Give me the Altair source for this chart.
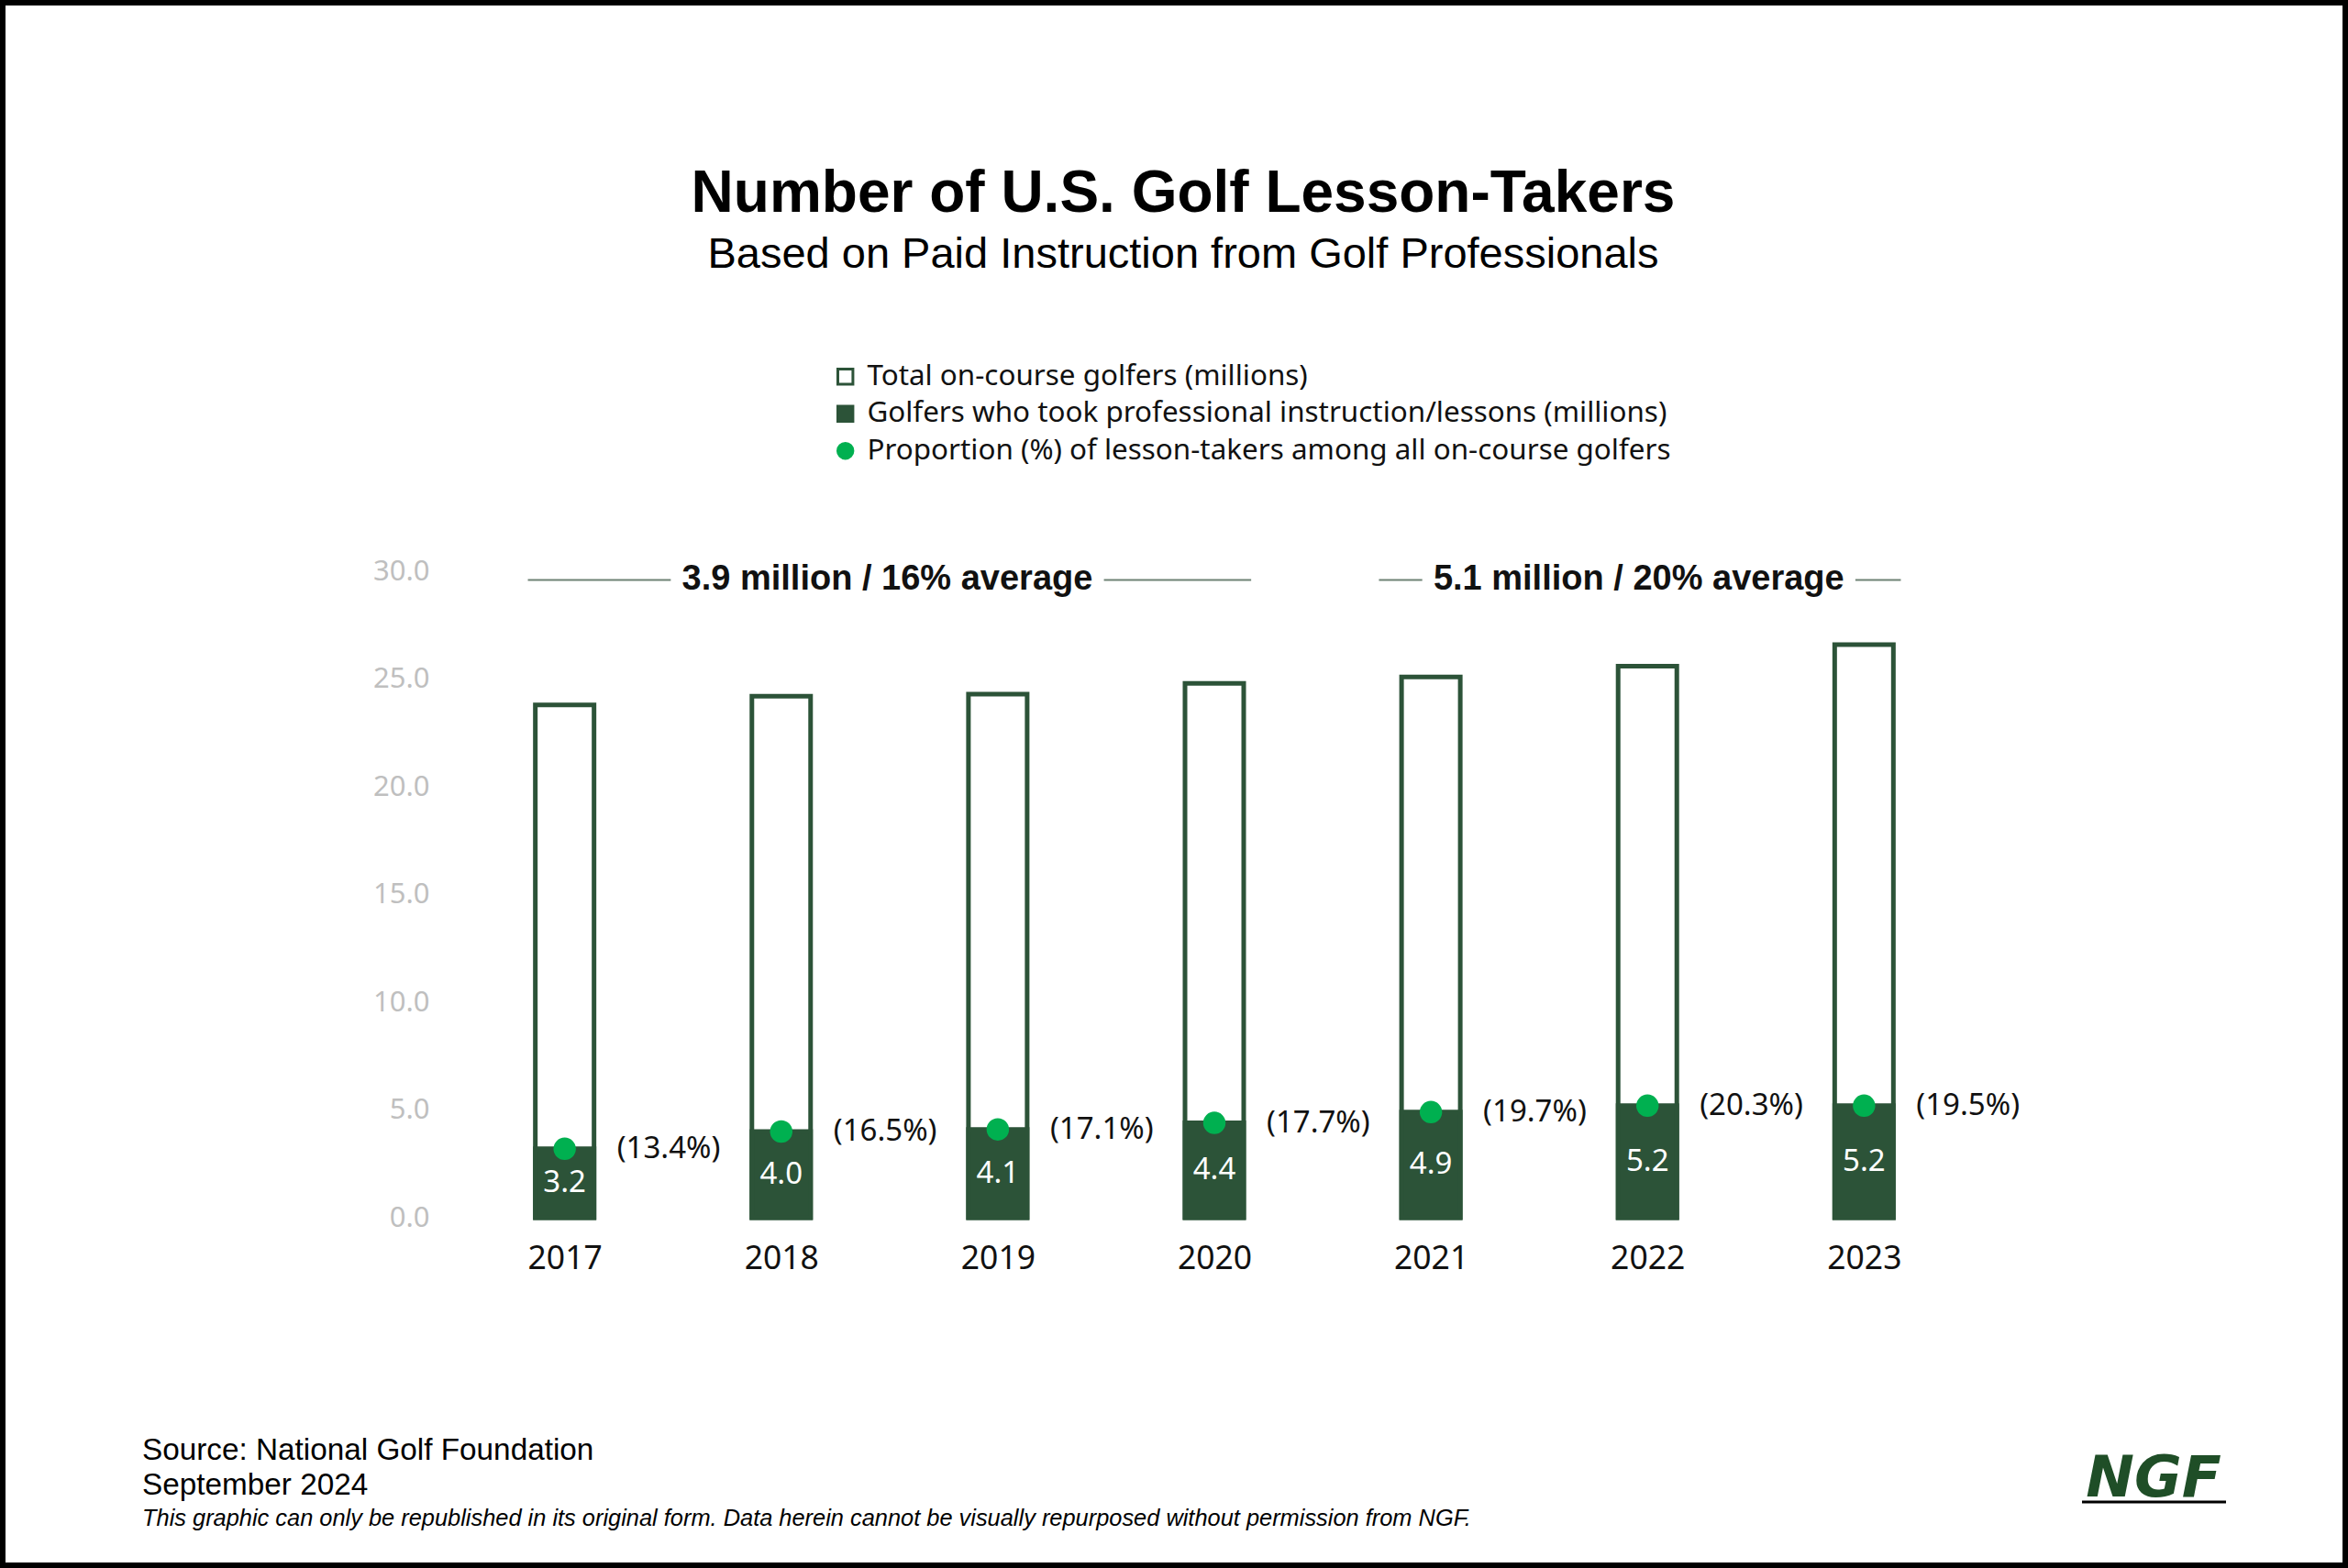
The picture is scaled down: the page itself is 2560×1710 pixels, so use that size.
import altair as alt
import pandas as pd

# ---------------- data ----------------
years = [2017, 2018, 2019, 2020, 2021, 2022, 2023]
total_golfers = [23.8, 24.2, 24.3, 24.8, 25.1, 25.6, 26.6]
lesson_takers = [3.2, 4.0, 4.1, 4.4, 4.9, 5.2, 5.2]
lesson_share = [13.4, 16.5, 17.1, 17.7, 19.7, 20.3, 19.5]

avg_labels = ["3.9 million / 16% average", "5.1 million / 20% average"]
avg_first_year = [2017, 2021]
avg_last_year = [2020, 2023]

legend_labels = [
    "Total on-course golfers (millions)",
    "Golfers who took professional instruction/lessons (millions)",
    "Proportion (%) of lesson-takers among all on-course golfers",
]
y_ticks = [0, 5, 10, 15, 20, 25, 30]

title_text = "Number of U.S. Golf Lesson-Takers"
subtitle_text = "Based on Paid Instruction from Golf Professionals"
source_lines = ["Source: National Golf Foundation", "September 2024"]
disclaimer_text = ("This graphic can only be republished in its original form. "
                   "Data herein cannot be visually repurposed without permission from NGF.")
logo_text = "NGF"

# ---------------- tables ----------------
df = pd.DataFrame({
    "year": years,
    "total": total_golfers,
    "lessons": lesson_takers,
    "share": lesson_share,
})
df["mid"] = df["lessons"] / 2
df["lesson_label"] = [f"{v:.1f}" for v in lesson_takers]
df["share_label"] = [f"({v:.1f}%)" for v in lesson_share]

# annotation layout (in year units): bracket lines around the average labels
AVG_LEVEL = 29.6
start_pad = [0.17, 0.24]
end_pad = [0.17, 0.17]
center_shift = [-0.01, -0.04]
GAP = 1.0
seg_rows = []
txt_rows = []
for i, (lab, a, b) in enumerate(zip(avg_labels, avg_first_year, avg_last_year)):
    c = (a + b) / 2 + center_shift[i]
    seg_rows.append({"x1": a - start_pad[i], "x2": c - GAP, "lvl": AVG_LEVEL})
    seg_rows.append({"x1": c + GAP, "x2": b + end_pad[i], "lvl": AVG_LEVEL})
    txt_rows.append({"xc": c, "lvl": AVG_LEVEL, "label": lab})
seg_df = pd.DataFrame(seg_rows)
avg_txt_df = pd.DataFrame(txt_rows)

# ---------------- styling ----------------
W, H = 2560, 1710
OX, OY = 474, 623
PW, PH = 1700, 705

dark = "#2C5338"
bright = "#00B050"
line_col = "#6E8275"
ink = "#111111"
NUM_FONT = "Noto Sans"
HEAD_FONT = "Liberation Sans"

xs = alt.Scale(domain=[2016.4, 2023.6], nice=False, zero=False, padding=0)
ys = alt.Scale(domain=[0, 30], nice=False, zero=True, padding=0)
x_axis = alt.Axis(values=years, format="d", title=None, grid=False, ticks=False,
                  domain=False, labelFont=NUM_FONT, labelFontSize=35.5,
                  labelColor=ink, labelPadding=27)
y_axis = alt.Axis(values=y_ticks, format=".1f", title=None, grid=False, ticks=False,
                  domain=False, labelFont=NUM_FONT, labelFontSize=31,
                  labelColor="#BFBFBF", labelPadding=6)

X = alt.X("year:Q", scale=xs, axis=x_axis)

outline = alt.Chart(df).mark_bar(size=64, fill="white", stroke=dark, strokeWidth=5).encode(
    x=X, y=alt.Y("total:Q", scale=ys, axis=y_axis), y2=alt.datum(0))

inner = alt.Chart(df).mark_bar(size=64, fill=dark, stroke=dark, strokeWidth=5).encode(
    x=X, y=alt.Y("lessons:Q", scale=ys, axis=y_axis), y2=alt.datum(0))

dots = alt.Chart(df).mark_circle(size=600, color=bright, opacity=1).encode(
    x=X, y=alt.Y("lessons:Q", scale=ys, axis=y_axis))

inner_labels = alt.Chart(df).mark_text(color="white", font=NUM_FONT, fontSize=33,
                                       baseline="middle").encode(
    x=X, y=alt.Y("mid:Q", scale=ys, axis=y_axis), text="lesson_label:N")

share_labels = alt.Chart(df).mark_text(color=ink, font=NUM_FONT, fontSize=33, align="left",
                                       baseline="middle", dx=57).encode(
    x=X, y=alt.Y("lessons:Q", scale=ys, axis=y_axis), text="share_label:N")

avg_rules = alt.Chart(seg_df).mark_rule(color=line_col, strokeWidth=2).encode(
    x=alt.X("x1:Q", scale=xs, axis=x_axis), x2="x2:Q",
    y=alt.Y("lvl:Q", scale=ys, axis=y_axis))

avg_text = alt.Chart(avg_txt_df).mark_text(color=ink, font=HEAD_FONT, fontSize=38,
                                           fontWeight="bold", baseline="middle").encode(
    x=alt.X("xc:Q", scale=xs, axis=x_axis), y=alt.Y("lvl:Q", scale=ys, axis=y_axis),
    text="label:N")

leg = alt.Legend(orient="none", legendX=432, legendY=-228, title=None, padding=0,
                 direction="vertical", labelFont=NUM_FONT, labelFontSize=31.4,
                 labelColor=ink, labelLimit=2000, labelOffset=8, rowPadding=7.5,
                 symbolSize=270, symbolStrokeWidth=3)
legend_layer = alt.Chart(pd.DataFrame({"item": legend_labels})).transform_filter(
    "false").mark_point(opacity=1, size=270, strokeWidth=3).encode(
    shape=alt.Shape("item:N", scale=alt.Scale(domain=legend_labels,
                                              range=["square", "square", "circle"]),
                    legend=leg),
    fill=alt.Fill("item:N", scale=alt.Scale(domain=legend_labels,
                                            range=["white", dark, bright]), legend=leg),
    stroke=alt.Stroke("item:N", scale=alt.Scale(domain=legend_labels,
                                                range=[dark, dark, bright]), legend=leg),
)


def label_layer(text, x, y, **kw):
    return alt.Chart(pd.DataFrame({"t": [text]})).mark_text(baseline="middle", **kw).encode(
        x=alt.value(x), y=alt.value(y), text="t:N")


title_layer = label_layer(title_text, 1290 - OX, 212 - OY, font=HEAD_FONT, fontSize=64,
                          fontWeight="bold", color="#000000", align="center")
subtitle_layer = label_layer(subtitle_text, 1290 - OX, 278 - OY, font=HEAD_FONT,
                             fontSize=47, color="#000000", align="center")
source_layer = label_layer(source_lines[0], 155 - OX, 1582 - OY, font=HEAD_FONT,
                           fontSize=33.3, color="#000000", align="left")
date_layer = label_layer(source_lines[1], 155 - OX, 1620 - OY, font=HEAD_FONT,
                         fontSize=33.3, color="#000000", align="left")
disc_layer = label_layer(disclaimer_text, 155 - OX, 1656 - OY, font=HEAD_FONT,
                         fontSize=25.4, fontStyle="italic", color="#000000", align="left")
logo_layer = label_layer(logo_text, 2348 - OX, 1613 - OY, font="DejaVu Sans", fontSize=63,
                         fontWeight="bold", fontStyle="italic", color="#1F4E27",
                         align="center")
logo_rule = alt.Chart(pd.DataFrame({"k": [0]})).mark_rule(color="#000000", strokeWidth=3).encode(
    x=alt.value(2270 - OX), x2=alt.value(2427 - OX), y=alt.value(1638 - OY))

frame = alt.Chart(pd.DataFrame({"k": [0]})).mark_rect(
    fillOpacity=0, stroke="#000000", strokeWidth=12).encode(
    x=alt.value(-OX), x2=alt.value(W - OX), y=alt.value(-OY), y2=alt.value(H - OY))

chart = alt.layer(
    outline, inner, dots, inner_labels, share_labels, avg_rules, avg_text,
    legend_layer, title_layer, subtitle_layer, source_layer, date_layer, disc_layer,
    logo_layer, logo_rule, frame,
).properties(
    width=PW, height=PH,
    padding={"left": OX, "top": OY, "right": W - OX - PW, "bottom": H - OY - PH},
    autosize=alt.AutoSizeParams(type="none"),
    background="white",
).configure_view(stroke="transparent")

chart.save("out.html", embed_options={"renderer": "svg", "actions": False})
